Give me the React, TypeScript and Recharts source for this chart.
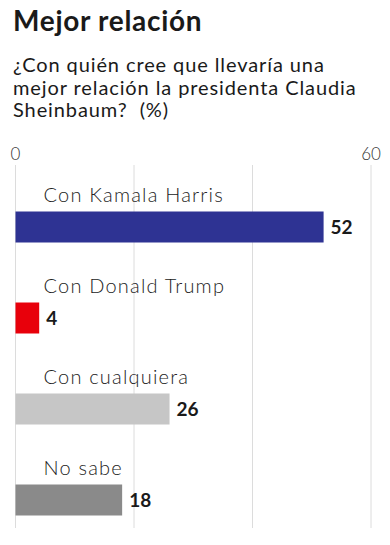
import React from 'react';
import { BarChart, Bar, XAxis, YAxis, CartesianGrid, LabelList, Cell } from 'recharts';

const categories = ['Con Kamala Harris', 'Con Donald Trump', 'Con cualquiera', 'No sabe'];
const values = [52, 4, 26, 18];
const colors = ['#2e3393', '#e8000b', '#c6c6c6', '#8a8a8a'];
const xTicks = [0, 20, 40, 60];
const shownTickLabels = [0, 60];

const data = categories.map((name, i) => ({ name, value: values[i] }));

const FONT = 'Lato, "Noto Sans", sans-serif';

const CategoryLabel = (props: any) => {
  const { x, y, value } = props;
  return (
    <text x={x + 28} y={y - 10} fontFamily={FONT} fontWeight={300} fontSize={20} letterSpacing={1.2} fill="#222">
      {value}
    </text>
  );
};

export default function App() {
  return (
    <div style={{ position: 'relative', width: 390, height: 545, margin: -8, background: '#fff', overflow: 'hidden' }}>
      <div style={{ position: 'absolute', left: 13, top: 3, fontFamily: FONT, fontWeight: 700, fontSize: 28, letterSpacing: 0.7, lineHeight: '34px', color: '#1a1a1a', whiteSpace: 'nowrap' }}>
        Mejor relación
      </div>
      <div style={{ position: 'absolute', left: 13, top: 53, fontFamily: FONT, fontWeight: 400, fontSize: 20, letterSpacing: 0.9, lineHeight: '22.5px', color: '#1a1a1a', whiteSpace: 'nowrap' }}>
        ¿Con quién cree que llevaría una<br />
        mejor relación la presidenta Claudia<br />
        Sheinbaum?&nbsp; (%)
      </div>
      <div style={{ position: 'absolute', left: 0, top: 140 }}>
        <BarChart width={390} height={405} data={data} layout="vertical" margin={{ top: 0, right: 19, bottom: 17, left: 15.5 }}>
          <CartesianGrid horizontal={false} stroke="#dcdcdc" />
          <XAxis
            type="number"
            orientation="top"
            domain={[0, 60]}
            ticks={xTicks}
            height={25}
            axisLine={false}
            tickLine={false}
            tickSize={0}
            tickMargin={5}
            tickFormatter={(v: number) => (shownTickLabels.includes(v) ? String(v) : '')}
            tick={{ fontFamily: FONT, fontSize: 17, fontWeight: 300, fill: '#333' }}
            interval={0}
          />
          <YAxis
            type="category"
            dataKey="name"
            width={0}
            tick={false}
            tickLine={false}
            axisLine={{ stroke: '#222', strokeWidth: 2 }}
            padding={{ top: 16.5, bottom: -17.5 }}
          />
          <Bar dataKey="value" barSize={31} isAnimationActive={false}>
            {data.map((d, i) => (
              <Cell key={d.name} fill={colors[i]} />
            ))}
            <LabelList dataKey="name" content={CategoryLabel} />
            <LabelList
              dataKey="value"
              position="right"
              offset={7}
              style={{ fontFamily: FONT, fontWeight: 700, fontSize: 19, fill: '#1a1a1a' }}
            />
          </Bar>
        </BarChart>
      </div>
    </div>
  );
}
